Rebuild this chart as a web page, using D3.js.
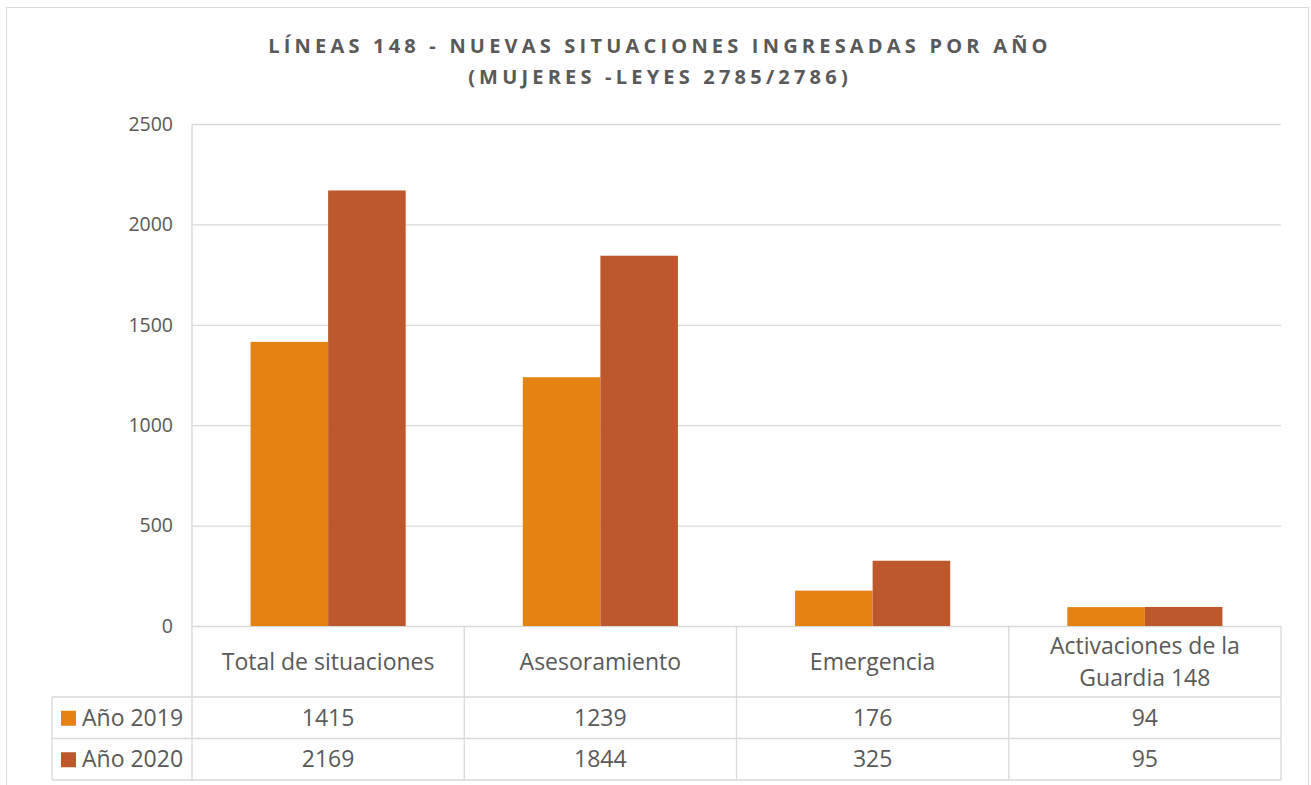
<!DOCTYPE html>
<html lang="es">
<head>
<meta charset="UTF-8">
<title>Líneas 148</title>
<script src="https://d3js.org/d3.v7.min.js"></script>
<style>
  body { margin: 0; background: #fff; }
  text { font-family: "Open Sans", sans-serif; fill: #595959; }
</style>
</head>
<body>
<svg id="canvas" width="1311" height="785"></svg>
<script>
// data
const categories = ["Total de situaciones", "Asesoramiento", "Emergencia", "Activaciones de la|Guardia 148"];
const series = ["Año 2019", "Año 2020"];
const values2019 = [1415, 1239, 176, 94];
const values2020 = [2169, 1844, 325, 95];
const yTicks = [0, 500, 1000, 1500, 2000, 2500];
const colors = ["#E48312", "#BD582C"];

const svg = d3.select("#canvas");
const grid = "#D9D9D9";

// outer chart frame
svg.append("rect").attr("x", 6.5).attr("y", 7.5).attr("width", 1302).attr("height", 800)
  .attr("fill", "none").attr("stroke", grid);

// title
const title = svg.append("text").attr("text-anchor", "middle")
  .style("font-weight", "bold").style("font-size", "20px").style("letter-spacing", "4.2px");
title.append("tspan").attr("x", 660).attr("y", 53).text("LÍNEAS 148 - NUEVAS SITUACIONES INGRESADAS POR AÑO");
title.append("tspan").attr("x", 660).attr("y", 84).text("(MUJERES -LEYES 2785/2786)");

const plotL = 192, plotR = 1281, plotT = 124, zero = 626;
const y = d3.scaleLinear().domain([0, 2500]).range([zero, plotT]);
const x0 = d3.scaleBand().domain(categories).range([plotL, plotR]);
const x1 = d3.scaleBand().domain(series).range([0, x0.bandwidth()]).paddingOuter(0.755);

// gridlines + tick labels
const yAxis = svg.append("g").attr("transform", `translate(${plotL},0)`)
  .call(d3.axisLeft(y).tickValues(yTicks).tickSize(-(plotR - plotL)).tickPadding(19).tickFormat(d3.format("d")));
yAxis.select(".domain").remove();
yAxis.selectAll(".tick line").attr("stroke", grid).attr("stroke-width", 1.3);
yAxis.selectAll(".tick text").style("font-size", "19.5px").attr("fill", "#595959");

// bars
const rows = series.map((s, i) => ({ s, vals: i === 0 ? values2019 : values2020, color: colors[i] }));
rows.forEach(r => {
  svg.append("g").selectAll("rect").data(categories).join("rect")
    .attr("x", (c) => x0(c) + x1(r.s))
    .attr("y", (c, i) => y(r.vals[i]))
    .attr("width", x1.bandwidth())
    .attr("height", (c, i) => zero - y(r.vals[i]))
    .attr("fill", r.color);
});

// data table
const headBottom = 697, rowH = 41.5, tableLeft = 52;
const lines = svg.append("g").attr("stroke", grid).attr("stroke-width", 1.3);
lines.append("line").attr("x1", plotL).attr("x2", plotL).attr("y1", plotT).attr("y2", headBottom + 2 * rowH);
categories.forEach(c => {
  const xe = x0(c) + x0.bandwidth();
  lines.append("line").attr("x1", xe).attr("x2", xe).attr("y1", zero).attr("y2", headBottom + 2 * rowH);
});
lines.append("line").attr("x1", tableLeft).attr("x2", tableLeft).attr("y1", headBottom).attr("y2", headBottom + 2 * rowH);
[0, 1, 2].forEach(k => {
  lines.append("line").attr("x1", tableLeft).attr("x2", plotR)
    .attr("y1", headBottom + k * rowH).attr("y2", headBottom + k * rowH);
});

// category header text
categories.forEach(c => {
  const parts = c.split("|");
  const cx = x0(c) + x0.bandwidth() / 2;
  const t = svg.append("text").attr("text-anchor", "middle").style("font-size", "23px");
  const cy = (zero + headBottom) / 2 + 8;
  parts.forEach((p, i) => {
    t.append("tspan").attr("x", cx).attr("y", cy + (i - (parts.length - 1) / 2) * 32).text(p);
  });
});

// series rows
rows.forEach((r, k) => {
  const cy = headBottom + k * rowH + rowH / 2;
  svg.append("rect").attr("x", 61).attr("y", cy - 7).attr("width", 15).attr("height", 15).attr("fill", r.color);
  svg.append("text").attr("x", 82).attr("y", cy + 8).style("font-size", "23px").text(r.s);
  categories.forEach((c, i) => {
    svg.append("text").attr("x", x0(c) + x0.bandwidth() / 2).attr("y", cy + 8)
      .attr("text-anchor", "middle").style("font-size", "23px").text(r.vals[i]);
  });
});
</script>
</body>
</html>
